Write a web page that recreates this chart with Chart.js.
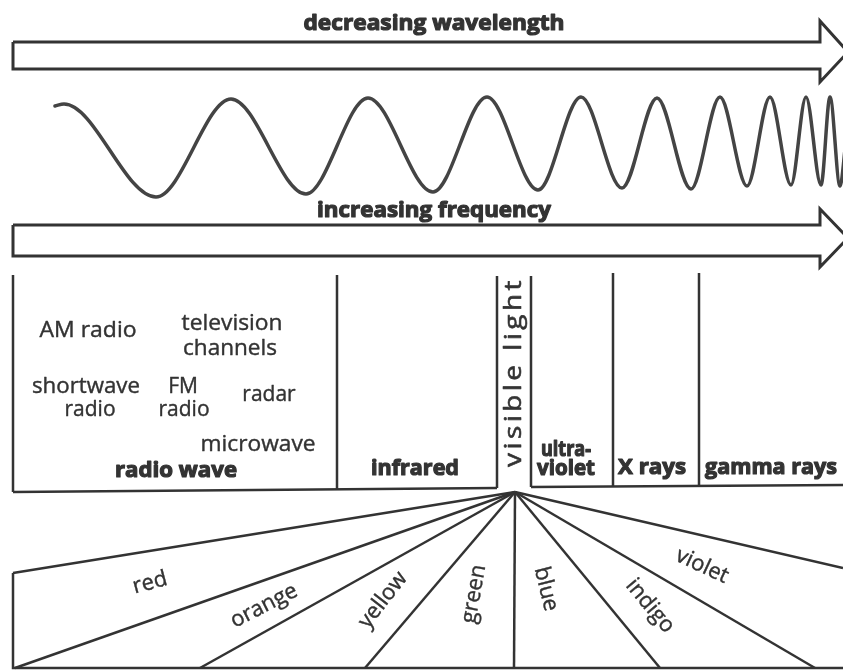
<!DOCTYPE html>
<html><head><meta charset="utf-8">
<script src="https://cdn.jsdelivr.net/npm/chart.js@4.4.1/dist/chart.umd.min.js"></script>
<style>html,body{margin:0;padding:0;background:#fff;}#wrap{width:843px;height:670px;}</style>
</head><body><div id="wrap"><canvas id="c" width="843" height="670"></canvas></div>
<script>
// ---- values (picture units: x 0..843, y 0..670 top-down) ----
// wave: start point, then alternating crests / troughs
const waveX = [55, 64, 156, 231, 306, 368, 433, 487, 538, 581, 622, 657, 691, 720, 747, 770, 791, 806, 821, 830, 840, 846];
const waveY = [106, 104, 197, 99, 194, 98, 192, 97, 190, 97, 188, 98, 189, 97, 186, 97, 185, 97, 185, 97, 186, 140];

// arrow outlines
const arrow1X = [13, 820, 820, 848, 820, 820, 13, 13];
const arrow1Y = [42, 42, 21, 52, 82, 69, 69, 42];
const arrow2X = [13, 820, 820, 848, 820, 820, 13, 13];
const arrow2Y = [225, 225, 209, 238, 267, 256, 256, 225];

// spectrum band dividers
const bandLineX = [13, 337, 497, 531, 613, 699];
const bandTopY = [275, 275, 276, 276, 273, 273];
const bandBotY = [492, 489, 488, 487, 486, 486];
const boxBottomX = [[13, 497], [531, 843]];
const boxBottomY = [[492, 488], [487, 485]];

// visible-light fan
const fanApex = [515, 492];
const fanEndX = [13, 15, 200, 365, 514, 660, 815, 843];
const fanEndY = [573, 668, 668, 668, 668, 668, 668, 568];
const frameX = [13, 13, 843];
const frameY = [573, 668, 668];

// text
const arrowLabels = ['decreasing wavelength', 'increasing frequency'];
const bandLabels = ['radio wave', 'infrared', 'ultra-', 'violet', 'X rays', 'gamma rays'];
const visibleLabel = 'visible light';
const radioLabels = ['AM radio', 'television', 'channels', 'shortwave', 'radio', 'FM', 'radio', 'radar', 'microwave'];
const colourLabels = ['red', 'orange', 'yellow', 'green', 'blue', 'indigo', 'violet'];

// ---- layout / style (kept apart from the values) ----
const INK = '#333';
const arrowLabelPos = [[434, 24, 261], [434, 211, 234]];
const bandLabelPos = [[176, 471, 122], [415, 469, 88], [566, 450, 50], [566, 469, 58], [652, 468, 68], [771, 468, 132]];
const visiblePos = [514, 372, 190];
const radioLabelPos = [[88, 331, 97], [232, 324, 101], [230, 349, 94], [86, 387, 108], [90, 410, 0], [183, 387, 0], [184, 410, 0], [269, 395, 0], [258, 445, 115]];
const colourLabelPos = [[150, 583, -15], [264, 606, -27], [383, 600, -52], [474, 594, -80], [546, 589, 76], [650, 606, 50], [702, 566, 25]];

function pts(xs, ys) { return xs.map((x, i) => ({x: x, y: ys[i]})); }
function seg(data, w) {
  return {data: data, showLine: true, borderColor: INK, borderWidth: w, pointRadius: 0,
          tension: 0, fill: false, clip: false, borderJoinStyle: 'miter', borderCapStyle: 'butt'};
}

const datasets = [];
const wave = seg(pts(waveX, waveY), 3.5);
wave.cubicInterpolationMode = 'monotone';
wave.borderColor = '#444';
wave.borderCapStyle = 'round';
datasets.push(wave);
datasets.push(seg(pts(arrow1X, arrow1Y), 3));
datasets.push(seg(pts(arrow2X, arrow2Y), 3));
bandLineX.forEach((x, i) => datasets.push(seg([{x: x, y: bandTopY[i]}, {x: x, y: bandBotY[i]}], 2.5)));
boxBottomX.forEach((xs, i) => datasets.push(seg(pts(xs, boxBottomY[i]), 2.5)));
fanEndX.forEach((x, i) => datasets.push(seg([{x: fanApex[0], y: fanApex[1]}, {x: x, y: fanEndY[i]}], 2.5)));
datasets.push(seg(pts(frameX, frameY), 2.5));

const textPlugin = {
  id: 'texts',
  beforeDraw(chart) {
    const c = chart.ctx; c.save(); c.fillStyle = '#fff'; c.fillRect(0, 0, chart.width, chart.height); c.restore();
  },
  afterDatasetsDraw(chart) {
    const ctx = chart.ctx, sx = chart.scales.x, sy = chart.scales.y;
    function put(txt, x, y, font, rot, fitW, spacing, thick) {
      ctx.save();
      ctx.font = font;
      ctx.fillStyle = INK;
      ctx.strokeStyle = INK;
      ctx.textAlign = 'center';
      ctx.textBaseline = 'middle';
      if (spacing) ctx.letterSpacing = spacing;
      ctx.translate(sx.getPixelForValue(x), sy.getPixelForValue(y));
      if (rot) ctx.rotate(rot * Math.PI / 180);
      if (fitW) {
        const w = ctx.measureText(txt).width;
        let k = fitW / w; k = Math.max(0.6, Math.min(1.3, k));
        ctx.scale(k, 1);
      }
      ctx.fillText(txt, 0, 0);
      if (thick) { ctx.lineWidth = thick; ctx.lineJoin = 'round'; ctx.strokeText(txt, 0, 0); }
      ctx.restore();
    }
    const BOLD = 'bold 22px "Open Sans"';
    const REG = '21px "Open Sans"';
    arrowLabels.forEach((t, i) => put(t, arrowLabelPos[i][0], arrowLabelPos[i][1], BOLD, 0, arrowLabelPos[i][2], null, 1.2));
    bandLabels.forEach((t, i) => put(t, bandLabelPos[i][0], bandLabelPos[i][1], BOLD, 0, bandLabelPos[i][2], null, 1.2));
    radioLabels.forEach((t, i) => put(t, radioLabelPos[i][0], radioLabelPos[i][1], REG, 0, radioLabelPos[i][2], null, 0.4));
    put(visibleLabel, visiblePos[0], visiblePos[1], '24px "Open Sans"', -90, visiblePos[2], '3px', 0.6);
    colourLabels.forEach((t, i) => put(t, colourLabelPos[i][0], colourLabelPos[i][1], '22px "Open Sans"', colourLabelPos[i][2], 0, null, 0.4));
  }
};

new Chart(document.getElementById('c'), {
  type: 'scatter',
  data: {datasets: datasets},
  options: {
    responsive: false, animation: false, devicePixelRatio: 1,
    layout: {padding: 0},
    plugins: {legend: {display: false}, tooltip: {enabled: false}},
    events: [],
    scales: {
      x: {type: 'linear', min: 0, max: 843, display: false},
      y: {type: 'linear', min: 0, max: 670, reverse: true, display: false}
    }
  },
  plugins: [textPlugin]
});
</script>
</body></html>
